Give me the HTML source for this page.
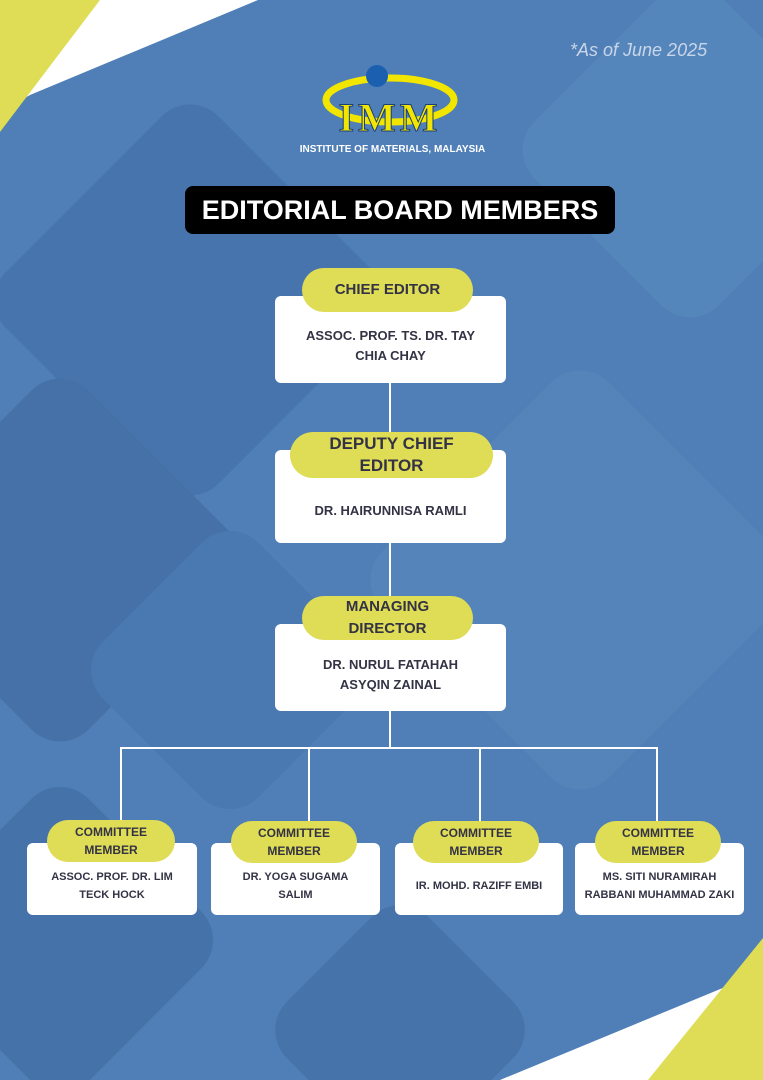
<!DOCTYPE html>
<html style="overflow:hidden;height:1080px;width:763px"><head><style>
html,body{overflow:hidden}
body{margin:0;width:763px;height:1080px;overflow:hidden;position:relative;background:#4f7fb6;font-family:"Liberation Sans",sans-serif;}
.abs{position:absolute}
.box{position:absolute;background:#fff;border-radius:6px;display:flex;align-items:center;justify-content:center;text-align:center;color:#333345;font-weight:bold;font-size:13px;line-height:20px}
.pill{position:absolute;background:#dfdc55;border-radius:24px;display:flex;align-items:center;justify-content:center;text-align:center;color:#333345;font-weight:bold;font-size:15px;line-height:22px}
.sm{font-size:11px;line-height:18px}
.ln{position:absolute;background:#fff}
</style></head><body>
<svg class="abs" style="left:0;top:0" width="763" height="1080">
<rect x="40" y="150" width="300" height="300" rx="40" fill="#4774ad" transform="rotate(45 190 300)"/>
<rect x="-80" y="420" width="280" height="280" rx="40" fill="#4671a8" transform="rotate(45 60 560)"/>
<rect x="420" y="420" width="320" height="320" rx="40" fill="#5484ba" transform="rotate(45 580 580)"/>
<rect x="120" y="560" width="220" height="220" rx="40" fill="#4a78b0" transform="rotate(45 230 670)"/>
<rect x="-60" y="820" width="240" height="240" rx="40" fill="#4672aa" transform="rotate(45 60 940)"/>
<rect x="300" y="930" width="200" height="200" rx="40" fill="#4773ab" transform="rotate(45 400 1030)"/>
<rect x="560" y="20" width="260" height="260" rx="40" fill="#5586bb" transform="rotate(45 690 150)"/>
<polygon points="95,0 258,0 30,95 0,112" fill="#fff"/>
<polygon points="0,0 100,0 0,132" fill="#dfdc55"/>
<polygon points="500,1080 730,985 763,968 763,1080" fill="#fff"/>
<polygon points="763,938 763,1080 648,1080" fill="#dfdc55"/>
<ellipse cx="390" cy="100" rx="64" ry="22" fill="none" stroke="#f2e600" stroke-width="7"/>
<circle cx="377" cy="76" r="11" fill="#1b5fb0"/>
<text x="390" y="131" text-anchor="middle" font-family="Liberation Serif" font-size="40" font-weight="bold" letter-spacing="4" fill="#f2e600" stroke="#1a3f7a" stroke-width="1">IMM</text>
</svg>
<div class="abs" style="left:280px;top:144px;width:225px;text-align:center;color:#fff;font-weight:bold;font-size:10px">INSTITUTE OF MATERIALS, MALAYSIA</div>
<div class="abs" style="left:570px;top:40px;color:#c9d6ea;font-style:italic;font-size:18px">*As of June 2025</div>
<div class="abs" style="left:185px;top:186px;width:430px;height:48px;background:#000;border-radius:8px;color:#fff;font-weight:bold;font-size:27px;display:flex;align-items:center;justify-content:center">EDITORIAL BOARD MEMBERS</div>

<div class="ln" style="left:389px;top:383px;width:2px;height:70px"></div>
<div class="ln" style="left:389px;top:543px;width:2px;height:55px"></div>
<div class="ln" style="left:389px;top:711px;width:2px;height:38px"></div>
<div class="ln" style="left:120px;top:747px;width:538px;height:2px"></div>
<div class="ln" style="left:120px;top:747px;width:2px;height:76px"></div>
<div class="ln" style="left:308px;top:747px;width:2px;height:76px"></div>
<div class="ln" style="left:479px;top:747px;width:2px;height:76px"></div>
<div class="ln" style="left:656px;top:747px;width:2px;height:76px"></div>

<div class="box" style="left:275px;top:296px;width:231px;height:87px;padding-top:12px;box-sizing:border-box">ASSOC. PROF. TS. DR. TAY<br>CHIA CHAY</div>
<div class="pill" style="left:302px;top:268px;width:171px;height:44px">CHIEF EDITOR</div>
<div class="box" style="left:275px;top:450px;width:231px;height:93px;padding-top:28px;box-sizing:border-box">DR. HAIRUNNISA RAMLI</div>
<div class="pill" style="left:290px;top:432px;width:203px;height:46px;font-size:17px">DEPUTY CHIEF<br>EDITOR</div>
<div class="box" style="left:275px;top:624px;width:231px;height:87px;padding-top:14px;box-sizing:border-box">DR. NURUL FATAHAH<br>ASYQIN ZAINAL</div>
<div class="pill" style="left:302px;top:596px;width:171px;height:44px">MANAGING<br>DIRECTOR</div>

<div class="box sm" style="left:27px;top:843px;width:170px;height:72px;padding-top:14px;box-sizing:border-box">ASSOC. PROF. DR. LIM<br>TECK HOCK</div>
<div class="pill sm" style="left:47px;top:820px;width:128px;height:42px;font-size:12px">COMMITTEE<br>MEMBER</div>
<div class="box sm" style="left:211px;top:843px;width:169px;height:72px;padding-top:14px;box-sizing:border-box">DR. YOGA SUGAMA<br>SALIM</div>
<div class="pill sm" style="left:231px;top:821px;width:126px;height:42px;font-size:12px">COMMITTEE<br>MEMBER</div>
<div class="box sm" style="left:395px;top:843px;width:168px;height:72px;padding-top:14px;box-sizing:border-box">IR. MOHD. RAZIFF EMBI</div>
<div class="pill sm" style="left:413px;top:821px;width:126px;height:42px;font-size:12px">COMMITTEE<br>MEMBER</div>
<div class="box sm" style="left:575px;top:843px;width:169px;height:72px;padding-top:14px;box-sizing:border-box">MS. SITI NURAMIRAH<br>RABBANI MUHAMMAD ZAKI</div>
<div class="pill sm" style="left:595px;top:821px;width:126px;height:42px;font-size:12px">COMMITTEE<br>MEMBER</div>
</body></html>
